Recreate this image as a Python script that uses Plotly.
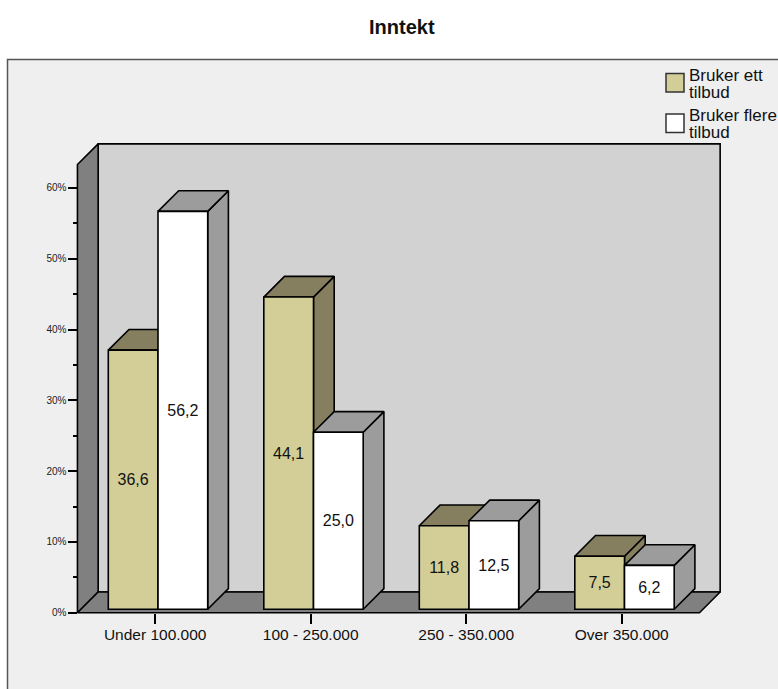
import plotly.graph_objects as go

# Income distribution by number of services used
title = "Inntekt"
categories = ["Under 100.000", "100 - 250.000", "250 - 350.000", "Over 350.000"]
bruker_ett = [36.6, 44.1, 11.8, 7.5]
bruker_flere = [56.2, 25.0, 12.5, 6.2]
legend_lines = [["Bruker ett", "tilbud"], ["Bruker flere", "tilbud"]]
y_major = [0, 10, 20, 30, 40, 50, 60]
y_minor = [5, 15, 25, 35, 45, 55]

W, H = 778, 689
PX_PER_CAT = 155.5
PX_PER_PCT = 7.08
X0_PX = 155.2      # pixel column of the first category
Y0_PX = 612.7      # pixel row of 0 %

# Pseudo-3D offsets expressed in axis units
DEPTH_X = 20.7 / PX_PER_CAT
DEPTH_Y = 20.7 / PX_PER_PCT
WALL_TOP = 63.3
BAR_W = 49.7 / PX_PER_CAT
BAR_SHIFT_X = 2.8 / PX_PER_CAT
BAR_BASE = 3.4 / PX_PER_PCT
LEFT, RIGHT = -0.5, len(categories) - 0.5

TAN, TAN_DARK = "#D3CE97", "#857F5F"
WHITE, GREY_FACE = "#FFFFFF", "#9C9C9C"
WALL_BACK, WALL_SIDE = "#D2D2D2", "#808080"
PANEL = "#EFEFEF"
EDGE = "#000000"
FONT = "Liberation Sans"
LW = 1.6

fig = go.Figure()


def face(xs, ys, color):
    fig.add_trace(go.Scatter(
        x=xs + xs[:1], y=ys + ys[:1], mode="lines", fill="toself",
        fillcolor=color, line=dict(color=EDGE, width=LW),
        hoverinfo="skip", showlegend=False, zorder=0,
    ))


# Chart box: back wall, left wall, floor
back_r, back_t = RIGHT + DEPTH_X, WALL_TOP + DEPTH_Y
face([LEFT + DEPTH_X, back_r, back_r, LEFT + DEPTH_X],
     [DEPTH_Y, DEPTH_Y, back_t, back_t], WALL_BACK)
face([LEFT, LEFT + DEPTH_X, LEFT + DEPTH_X, LEFT],
     [0, DEPTH_Y, back_t, WALL_TOP], WALL_SIDE)
face([LEFT, RIGHT, back_r, LEFT + DEPTH_X],
     [0, 0, DEPTH_Y, DEPTH_Y], WALL_SIDE)


def bar_depth(x_left, value, shade):
    """Top and side faces behind one bar front."""
    xl, xr = x_left, x_left + BAR_W
    top, base = value + BAR_BASE, BAR_BASE
    face([xr, xr + DEPTH_X, xr + DEPTH_X, xr],
         [base, base + DEPTH_Y, top + DEPTH_Y, top], shade)
    face([xl, xr, xr + DEPTH_X, xl + DEPTH_X],
         [top, top, top + DEPTH_Y, top + DEPTH_Y], shade)


for i in range(len(categories)):
    bar_depth(i + BAR_SHIFT_X - BAR_W, bruker_ett[i], TAN_DARK)
    bar_depth(i + BAR_SHIFT_X, bruker_flere[i], GREY_FACE)


def labels(values):
    return [f"{v:.1f}".replace(".", ",") for v in values]


positions = list(range(len(categories)))
for name, values, color, offset in [
    ("Bruker ett tilbud", bruker_ett, TAN, BAR_SHIFT_X - BAR_W),
    ("Bruker flere tilbud", bruker_flere, WHITE, BAR_SHIFT_X),
]:
    fig.add_trace(go.Bar(
        name=name, x=positions, y=values, base=BAR_BASE,
        width=BAR_W, offset=offset,
        marker=dict(color=color, line=dict(color=EDGE, width=LW)),
        text=labels(values), textposition="inside", insidetextanchor="middle",
        textangle=0, constraintext="none",
        textfont=dict(family=FONT, size=16, color="#111111"),
        hoverinfo="skip", showlegend=False, zorder=1,
    ))

# Legend swatches and their two-line captions
swatch_colors = [TAN, WHITE]
swatch_tops = [73.5, 114]
shapes = [dict(type="rect", xref="paper", yref="paper", layer="below",
               x0=7.5 / W, x1=1.02, y0=-0.02, y1=1 - 59.5 / H,
               fillcolor=PANEL, line=dict(color="#555555", width=1.5))]
annotations = [dict(text=f"<b>{title}</b>", xref="paper", yref="paper",
                    x=401.5 / W, y=1 - 27 / H, yanchor="middle", showarrow=False,
                    font=dict(family=FONT, size=20, color="#111111"))]
for color, top, lines in zip(swatch_colors, swatch_tops, legend_lines):
    shapes.append(dict(type="rect", xref="paper", yref="paper",
                       x0=666 / W, x1=684 / W,
                       y0=1 - (top + 18.5) / H, y1=1 - top / H,
                       fillcolor=color, line=dict(color="#333333", width=1.5)))
    for k, line in enumerate(lines):
        annotations.append(dict(
            text=line, xref="paper", yref="paper", xanchor="left", yanchor="middle",
            x=688 / W, y=1 - (top + 1.7 + 17 * k) / H, showarrow=False,
            borderpad=0, font=dict(family=FONT, size=17, color="#111111"),
        ))

fig.update_layout(
    width=W, height=H, margin=dict(l=0, r=0, t=0, b=0),
    paper_bgcolor="#FFFFFF", plot_bgcolor="rgba(0,0,0,0)",
    barmode="overlay", showlegend=False,
    shapes=shapes, annotations=annotations,
    xaxis=dict(
        domain=[0, 1], anchor="free", position=(H - Y0_PX) / H,
        range=[-X0_PX / PX_PER_CAT, (W - X0_PX) / PX_PER_CAT],
        tickmode="array", tickvals=positions, ticktext=categories,
        ticks="outside", ticklen=10, tickwidth=1.6, tickcolor=EDGE,
        ticklabelstandoff=-2,
        showgrid=False, zeroline=False, showline=False,
        tickfont=dict(family=FONT, size=15.5, color="#111111"),
    ),
    yaxis=dict(
        domain=[0, 1], anchor="free", position=(LEFT * PX_PER_CAT + X0_PX) / W,
        range=[-(H - Y0_PX) / PX_PER_PCT, Y0_PX / PX_PER_PCT],
        tickmode="array", tickvals=y_major,
        ticktext=[f"{v}%" for v in y_major],
        ticks="outside", ticklen=9, tickwidth=1.6, tickcolor=EDGE,
        minor=dict(tickmode="array", tickvals=y_minor, ticks="outside",
                   ticklen=4, tickwidth=1.6, tickcolor=EDGE, showgrid=False),
        showgrid=False, zeroline=False, showline=False,
        tickfont=dict(family=FONT, size=10, color="#222222"),
    ),
)

fig.write_html("out.html")
